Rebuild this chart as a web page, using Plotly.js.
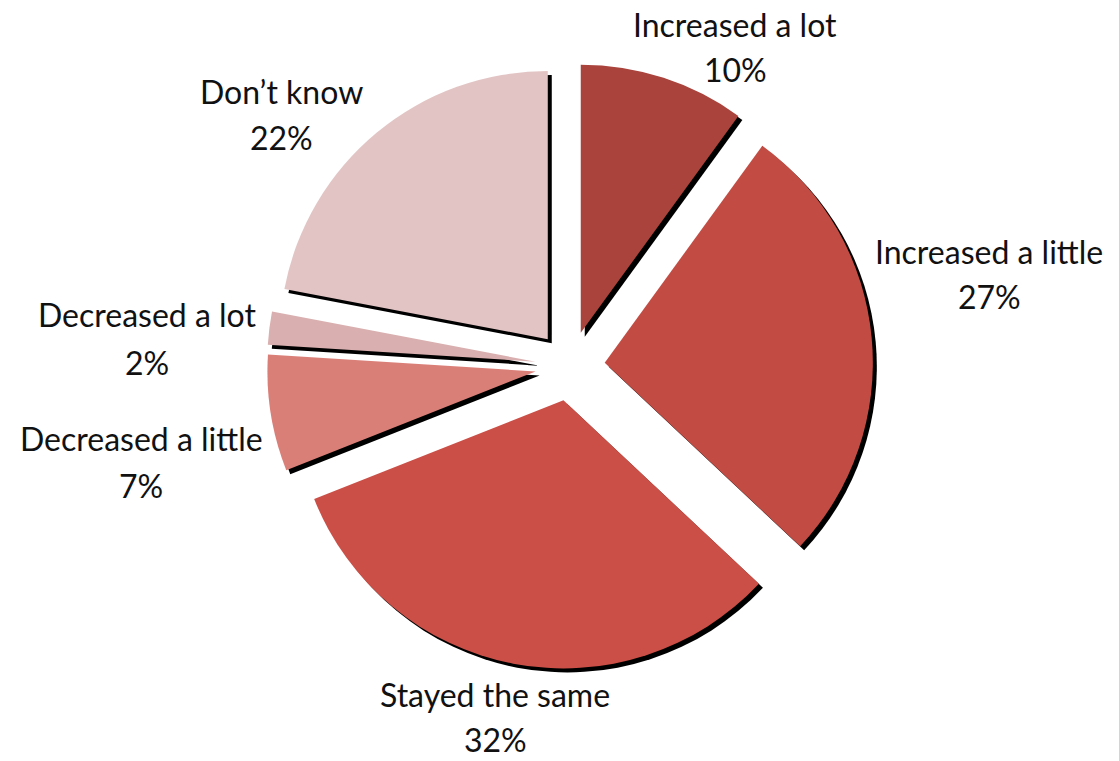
<!DOCTYPE html>
<html>
<head>
<meta charset="utf-8">
<script src="https://cdn.plot.ly/plotly-3.0.1.min.js"></script>
<style>html,body{margin:0;padding:0;background:#fff;}#chart{width:1119px;height:761px;}</style>
</head>
<body>
<div id="chart"></div>
<script>
const labels = ["Increased a lot", "Increased a little", "Stayed the same", "Decreased a little", "Decreased a lot", "Don’t know"];
const values = [10, 27, 32, 7, 2, 22];
const colors = ["#A9433C", "#C24C43", "#CB4F46", "#DA7F78", "#D9AFAF", "#E3C4C4"];

// label placement (pixels: centre x, name line y, percent line y)
const labelX = [735, 989, 495, 141, 147, 281];
const labelY1 = [25, 251, 694, 438, 315, 91];
const labelY2 = [69, 296, 739, 485, 362, 137];

const W = 1119, H = 761;
const pullFrac = 0.13;
const dom = {x: [267 / W, 873 / W], y: [1 - 669 / H, 1 - 63 / H]};
const sh = 4; // shadow offset in px
const FONT = "Lato, 'Open Sans', sans-serif";

const shadow = {
  type: "pie",
  labels: labels,
  values: values,
  sort: false,
  direction: "clockwise",
  rotation: 0,
  pull: values.map(() => pullFrac),
  marker: {colors: values.map(() => "#000000"), line: {width: 0}},
  textinfo: "none",
  hoverinfo: "skip",
  showlegend: false,
  domain: {x: [dom.x[0] + sh / W, dom.x[1] + sh / W], y: [dom.y[0] - sh / H, dom.y[1] - sh / H]}
};

const main = {
  type: "pie",
  labels: labels,
  values: values,
  sort: false,
  direction: "clockwise",
  rotation: 0,
  pull: values.map(() => pullFrac),
  marker: {colors: colors, line: {width: 0}},
  textinfo: "none",
  showlegend: false,
  domain: dom
};

const annotations = [];
labels.forEach((lab, i) => {
  annotations.push({
    xref: "paper", yref: "paper", x: labelX[i] / W, y: 1 - labelY1[i] / H,
    xanchor: "center", yanchor: "middle", showarrow: false, borderpad: 0,
    text: lab, font: {family: FONT, size: 32, color: "#111111"}
  });
  annotations.push({
    xref: "paper", yref: "paper", x: labelX[i] / W, y: 1 - labelY2[i] / H,
    xanchor: "center", yanchor: "middle", showarrow: false, borderpad: 0,
    text: values[i] + "%", font: {family: FONT, size: 32, color: "#111111"}
  });
});

const layout = {
  width: W,
  height: H,
  margin: {l: 0, r: 0, t: 0, b: 0},
  paper_bgcolor: "#ffffff",
  showlegend: false,
  font: {family: FONT, size: 32, color: "#111111"},
  annotations: annotations
};

Plotly.newPlot("chart", [shadow, main], layout, {displayModeBar: false, staticPlot: true});
</script>
</body>
</html>
